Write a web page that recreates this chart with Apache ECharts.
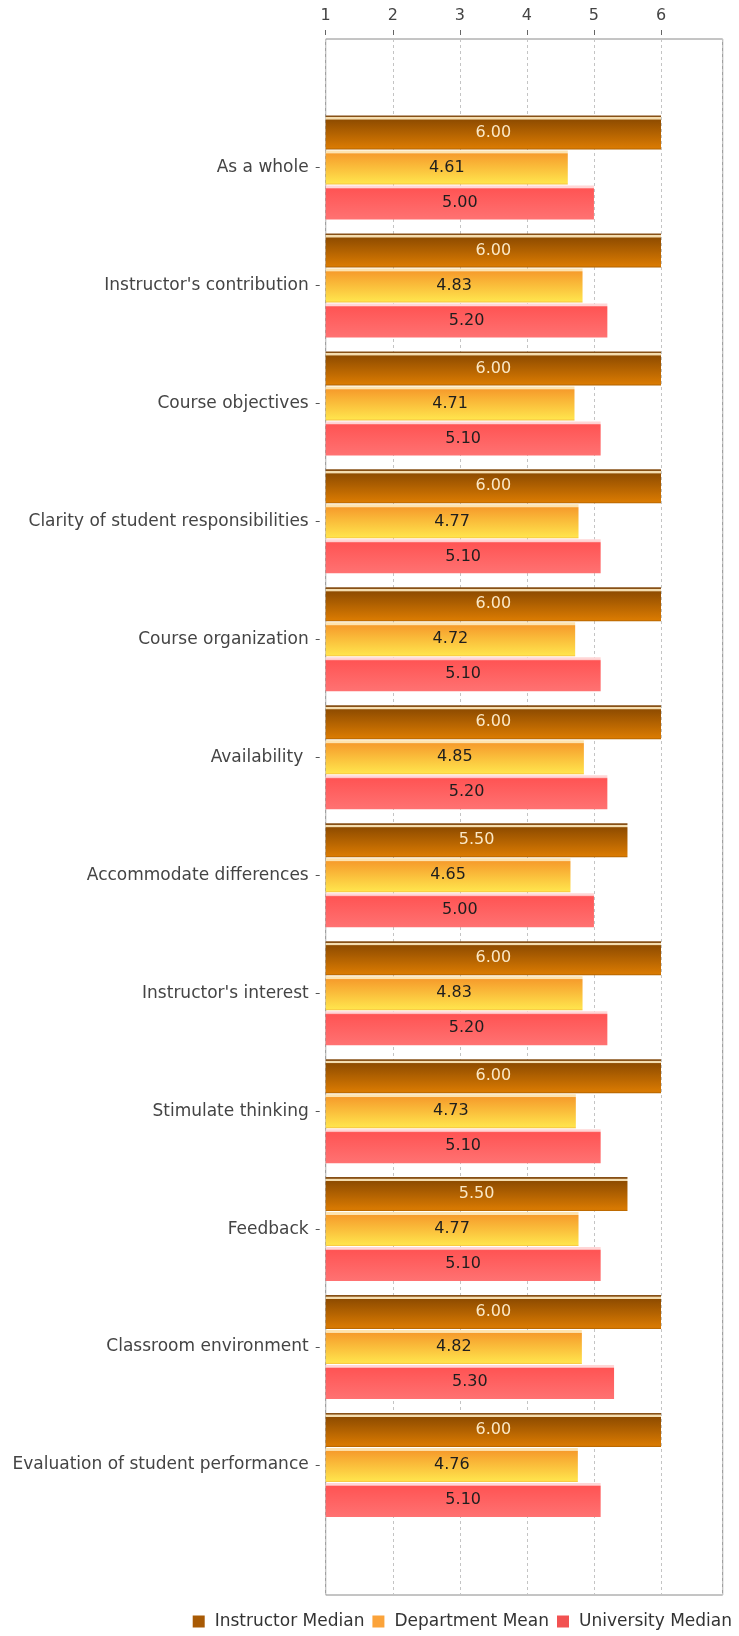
<!DOCTYPE html>
<html>
<head>
<meta charset="utf-8">
<title>Course evaluation</title>
<script src="https://cdn.jsdelivr.net/npm/echarts@6.0.0/dist/echarts.min.js"></script>
<style>
  html, body { margin: 0; padding: 0; background: #fff; }
  #chart-container { width: 739px; height: 1636px; }
</style>
</head>
<body>
<div id="chart-container"></div>
<script>
const categories = [
  "As a whole",
  "Instructor's contribution",
  "Course objectives",
  "Clarity of student responsibilities",
  "Course organization",
  "Availability ",
  "Accommodate differences",
  "Instructor's interest",
  "Stimulate thinking",
  "Feedback",
  "Classroom environment",
  "Evaluation of student performance"
];
const instructorMedian = [6.00, 6.00, 6.00, 6.00, 6.00, 6.00, 5.50, 6.00, 6.00, 5.50, 6.00, 6.00];
const departmentMean = [4.61, 4.83, 4.71, 4.77, 4.72, 4.85, 4.65, 4.83, 4.73, 4.77, 4.82, 4.76];
const universityMedian = [5.00, 5.20, 5.10, 5.10, 5.10, 5.20, 5.00, 5.20, 5.10, 5.10, 5.30, 5.10];
const tickValues = [1, 2, 3, 4, 5, 6];

document.addEventListener('DOMContentLoaded', () => {
  const chartContainer = document.getElementById('chart-container');
  const chart = echarts.init(chartContainer, null, { renderer: 'canvas' });

  const font = 'DejaVu Sans';
  const grad = (stops) => new echarts.graphic.LinearGradient(0, 0, 0, 1,
    stops.map(s => ({ offset: s[0], color: s[1] })));

  // bar fills: thin top highlight, then a vertical gradient
  const instructorFill = grad([
    [0, '#875016'], [0.04, '#875016'], [0.05, '#f4ddb0'], [0.11, '#f4ddb0'],
    [0.13, '#8f4c00'], [0.95, '#d97a02'], [1, '#b06200']
  ]);
  const departmentFill = grad([
    [0, '#fde3b0'], [0.07, '#fde3b0'], [0.1, '#f69c2c'], [0.95, '#ffe34c'], [1, '#f7c040']
  ]);
  const universityFill = grad([
    [0, '#ffd6d6'], [0.06, '#ffd6d6'], [0.1, '#ff5454'], [1, '#ff7272']
  ]);

  const label = (color) => ({
    show: true,
    position: 'inside',
    color: color,
    fontFamily: font,
    fontSize: 16,
    formatter: p => p.value.toFixed(2)
  });

  const left = 325.7;
  const right = 739 - 722.7;
  const plotTop = 39;
  const barsTop = 108.5;

  const option = {
    animation: false,
    backgroundColor: '#ffffff',
    grid: [
      { left: left, right: right, top: plotTop, bottom: 41, show: true,
        borderColor: '#8a8a8a', borderWidth: 1, backgroundColor: 'transparent' },
      { left: left, right: right, top: barsTop, bottom: 112 }
    ],
    xAxis: [
      {
        // only the dashed gridlines over the whole plot box
        gridIndex: 0, type: 'value', position: 'top', min: 1, max: 6.92, interval: 1,
        axisLine: { show: false },
        axisTick: { show: false },
        axisLabel: { show: false },
        splitLine: { show: true, lineStyle: { color: '#c4c4c4', type: [3, 3] } }
      },
      {
        // visible axis: ticks and labels above the plot box
        gridIndex: 1, type: 'value', position: 'top', min: 1, max: 6.92, interval: 1,
        startValue: 1,
        offset: barsTop - plotTop + 4,
        axisLine: { show: true, lineStyle: { color: 'rgba(0,0,0,0)' } },
        axisTick: { show: true, length: 5, customValues: tickValues,
          lineStyle: { color: '#666', width: 1 } },
        axisLabel: { show: true, customValues: tickValues, margin: 11,
          color: '#444', fontFamily: font, fontSize: 16 },
        splitLine: { show: false }
      }
    ],
    yAxis: [
      { gridIndex: 0, type: 'value', min: 0, max: 1, show: false },
      {
        gridIndex: 1, type: 'category', data: categories, inverse: true,
        offset: 6,
        axisLine: { show: false },
        axisTick: { show: true, alignWithLabel: true, length: 4,
          lineStyle: { color: '#555' } },
        axisLabel: { margin: 11, color: '#444', fontFamily: font, fontSize: 17 },
        splitLine: { show: false }
      }
    ],
    legend: {
      right: 2,
      bottom: 1,
      itemWidth: 12,
      itemHeight: 12,
      itemGap: 8,
      icon: 'rect',
      textStyle: { color: '#333', fontFamily: font, fontSize: 17, padding: [0, 0, 0, 5] },
      data: [
        { name: 'Instructor Median', itemStyle: { color: '#a85a04' } },
        { name: 'Department Mean', itemStyle: { color: '#fba33a' } },
        { name: 'University Median', itemStyle: { color: '#f25252' } }
      ]
    },
    series: [
      {
        name: 'Instructor Median', type: 'bar', xAxisIndex: 1, yAxisIndex: 1,
        data: instructorMedian, barWidth: 34, barGap: '3%', barCategoryGap: '12%',
        itemStyle: { color: instructorFill },
        label: label('#fbe8c6')
      },
      {
        name: 'Department Mean', type: 'bar', xAxisIndex: 1, yAxisIndex: 1,
        data: departmentMean, barWidth: 34, barGap: '3%',
        itemStyle: { color: departmentFill },
        label: label('#1e1e1e')
      },
      {
        name: 'University Median', type: 'bar', xAxisIndex: 1, yAxisIndex: 1,
        data: universityMedian, barWidth: 34, barGap: '3%',
        itemStyle: { color: universityFill },
        label: label('#1e1e1e')
      }
    ]
  };

  try {
    chart.setOption(option);
  } catch (err) {
    console.error('Error rendering chart:', err);
  }
});
</script>
</body>
</html>
